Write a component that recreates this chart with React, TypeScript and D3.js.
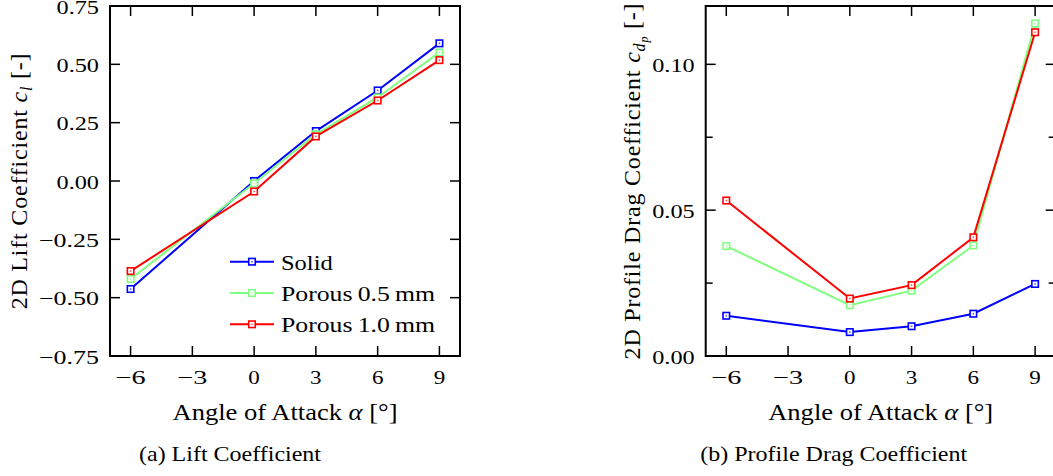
import React from "react";
import * as d3 from "d3";

const angles = [-6, 0, 3, 6, 9];
const seriesNames = ["Solid", "Porous\u20090.5\u2009mm", "Porous\u20091.0\u2009mm"];
const seriesColors = ["#0000ff", "#80ff80", "#ff0000"];

const liftSolid = [-0.463, 0.0, 0.214, 0.388, 0.59];
const liftPorous05 = [-0.42, -0.01, 0.2, 0.358, 0.551];
const liftPorous10 = [-0.386, -0.045, 0.191, 0.345, 0.518];

const dragSolid = [0.0138, 0.0082, 0.0102, 0.0145, 0.0247];
const dragPorous05 = [0.0377, 0.0174, 0.0224, 0.0379, 0.114];
const dragPorous10 = [0.0533, 0.0197, 0.0243, 0.0407, 0.111];

const xTicks = [-6, -3, 0, 3, 6, 9];
const liftTicks = [-0.75, -0.5, -0.25, 0, 0.25, 0.5, 0.75];
const dragMajorTicks = [0, 0.05, 0.1];
const dragMinorTicks = [0.025, 0.075];

const FONT = "Liberation Serif, DejaVu Serif";
const W = 1053;
const H = 476;

type PanelProps = {
  x0: number;
  x1: number;
  yDomain: [number, number];
  series: number[][];
  majorY: number[];
  minorY: number[];
  yFmt: (v: number) => string;
  ylabel: React.ReactNode;
  ylabelX: number;
  caption: string;
  captionX: number;
  captionW: number;
  legend?: boolean;
};

function Marker({ cx, cy, color, ms }: { cx: number; cy: number; color: string; ms: number }) {
  return (
    <g>
      <rect x={cx - ms / 2} y={cy - ms / 2} width={ms} height={ms} fill="#fff" stroke={color} strokeWidth={1.6} />
      <rect x={cx - 0.75} y={cy - 0.75} width={1.5} height={1.5} fill={color} opacity={0.7} />
    </g>
  );
}

function Panel(p: PanelProps) {
  const top = 6;
  const bottom = 356;
  const x = d3.scaleLinear().domain([-7, 10]).range([p.x0, p.x1]);
  const y = d3.scaleLinear().domain(p.yDomain).range([bottom, top]);
  const line = d3
    .line<number>()
    .x((_, i) => x(angles[i]))
    .y((d) => y(d));
  const TL = 10;
  const TM = 7;
  const ms = 6.5;
  const cx = (p.x0 + p.x1) / 2;
  return (
    <g>
      {xTicks.map((t) => (
        <g key={"xt" + t} stroke="#000" strokeWidth={1.5}>
          <line x1={x(t)} x2={x(t)} y1={bottom} y2={bottom - TL} />
          <line x1={x(t)} x2={x(t)} y1={top} y2={top + TL} />
        </g>
      ))}
      {p.majorY.map((t) => (
        <g key={"yt" + t} stroke="#000" strokeWidth={1.5}>
          <line x1={p.x0} x2={p.x0 + TL} y1={y(t)} y2={y(t)} />
          <line x1={p.x1} x2={p.x1 - TL} y1={y(t)} y2={y(t)} />
        </g>
      ))}
      {p.minorY.map((t) => (
        <g key={"ym" + t} stroke="#000" strokeWidth={1.5}>
          <line x1={p.x0} x2={p.x0 + TM} y1={y(t)} y2={y(t)} />
          <line x1={p.x1} x2={p.x1 - TM} y1={y(t)} y2={y(t)} />
        </g>
      ))}
      {p.series.map((s, si) => (
        <g key={"s" + si}>
          <path d={line(s) || ""} fill="none" stroke={seriesColors[si]} strokeWidth={2} />
          {s.map((v, i) => (
            <Marker key={i} cx={x(angles[i])} cy={y(v)} color={seriesColors[si]} ms={ms} />
          ))}
        </g>
      ))}
      <rect x={p.x0} y={top} width={p.x1 - p.x0} height={bottom - top} fill="none" stroke="#000" strokeWidth={2} />
      {xTicks.map((t) => {
        const s = d3.format("d")(t);
        return (
          <text key={"xl" + t} x={x(t)} y={383.5} textAnchor="middle" fontFamily={FONT} fontSize={19.5}
            textLength={t < 0 ? 30 : 11.5} lengthAdjust="spacingAndGlyphs">
            {s}
          </text>
        );
      })}
      {p.majorY.map((t) => {
        const s = p.yFmt(t);
        return (
          <text key={"yl" + t} x={p.x0 - 11} y={y(t) + 7.5} textAnchor="end" fontFamily={FONT} fontSize={19.5}
            textLength={s.length === 5 ? 60 : 42.5} lengthAdjust="spacingAndGlyphs">
            {s}
          </text>
        );
      })}
      <text x={cx} y={420} textAnchor="middle" fontFamily={FONT} fontSize={24}
        textLength={225} lengthAdjust="spacingAndGlyphs">
        Angle of Attack <tspan fontStyle="italic">α</tspan> [°]
      </text>
      <text
        transform={`translate(${p.ylabelX},${(top + bottom) / 2}) rotate(-90)`}
        textAnchor="middle"
        fontFamily={FONT}
        fontSize={24}
        letterSpacing={0.8}
      >
        {p.ylabel}
      </text>
      <text x={p.captionX} y={461} textAnchor="middle" fontFamily={FONT} fontSize={21}
        textLength={p.captionW} lengthAdjust="spacingAndGlyphs">
        {p.caption}
      </text>
      {p.legend &&
        seriesNames.map((n, i) => {
          const ly = 261.7 + i * 31.3;
          return (
            <g key={"lg" + i}>
              <line x1={230} x2={274} y1={ly} y2={ly} stroke={seriesColors[i]} strokeWidth={2} />
              <Marker cx={252} cy={ly} color={seriesColors[i]} ms={ms} />
              <text x={281} y={ly + 8} fontFamily={FONT} fontSize={22}
                textLength={i === 0 ? 51.7 : 154} lengthAdjust="spacingAndGlyphs">
                {n}
              </text>
            </g>
          );
        })}
    </g>
  );
}

export default function App() {
  const fmt = d3.format(".2f");
  return (
    <svg
      width={W}
      height={H}
      style={{ position: "absolute", left: 0, top: 0, background: "#fff" }}
      xmlns="http://www.w3.org/2000/svg"
    >
      <rect x={0} y={0} width={W} height={H} fill="#fff" />
      <Panel
        x0={110}
        x1={460}
        yDomain={[-0.75, 0.75]}
        series={[liftSolid, liftPorous05, liftPorous10]}
        majorY={liftTicks}
        minorY={[]}
        yFmt={fmt}
        ylabelX={27}
        caption="(a) Lift Coefficient"
        captionX={230}
        captionW={182}
        legend
        ylabel={
          <>
            2D Lift Coefficient <tspan fontStyle="italic">c</tspan>
            <tspan fontStyle="italic" fontSize={16} dy={5}>l</tspan>
            <tspan dy={-5}> [-]</tspan>
          </>
        }
      />
      <Panel
        x0={705.7}
        x1={1055.7}
        yDomain={[0, 0.12]}
        series={[dragSolid, dragPorous05, dragPorous10]}
        majorY={dragMajorTicks}
        minorY={dragMinorTicks}
        yFmt={fmt}
        ylabelX={640}
        caption="(b) Profile Drag Coefficient"
        captionX={833.7}
        captionW={267}
        ylabel={
          <>
            2D Profile Drag Coefficient <tspan fontStyle="italic">c</tspan>
            <tspan fontStyle="italic" fontSize={16} dy={5}>d</tspan>
            <tspan fontStyle="italic" fontSize={12} dy={3}>p</tspan>
            <tspan dy={-8}> [-]</tspan>
          </>
        }
      />
    </svg>
  );
}
